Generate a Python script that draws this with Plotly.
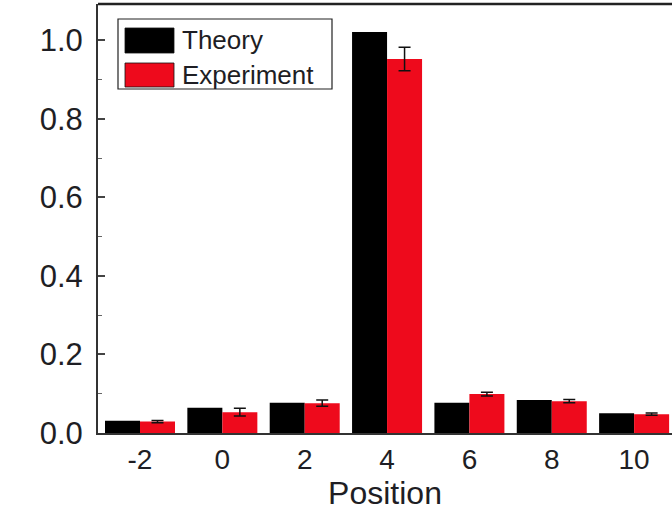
import plotly.graph_objects as go

# Positions along the lattice and the probability at each site
positions = [-2, 0, 2, 4, 6, 8, 10]
theory = [0.031, 0.064, 0.077, 1.021, 0.077, 0.084, 0.050]
experiment = [0.029, 0.053, 0.076, 0.952, 0.099, 0.081, 0.048]
experiment_err = [0.003, 0.010, 0.008, 0.030, 0.005, 0.004, 0.003]

y_tick_vals = [0.0, 0.2, 0.4, 0.6, 0.8, 1.0]
y_tick_text = ["0.0", "0.2", "0.4", "0.6", "0.8", "1.0"]
x_tick_vals = [-2, 0, 2, 4, 6, 8, 10]
x_tick_text = ["-2", "0", "2", "4", "6", "8", "10"]

series_names = ["Theory", "Experiment"]
BLACK = "#000000"
RED = "#ee0a1c"
FONT = "Liberation Sans, Arial, sans-serif"
TEXT = "#1e1e24"

fig = go.Figure()
fig.add_trace(go.Bar(
    x=positions, y=theory, name=series_names[0],
    marker=dict(color=BLACK, line=dict(width=0)),
))
fig.add_trace(go.Bar(
    x=positions, y=experiment, name=series_names[1],
    marker=dict(color=RED, line=dict(width=0)),
    error_y=dict(type="data", array=experiment_err, visible=True,
                 color="#111111", thickness=1.5, width=6),
))

fig.update_layout(
    width=672, height=512,
    margin=dict(l=98, r=0, t=4, b=79),
    paper_bgcolor="white", plot_bgcolor="white",
    barmode="group", bargap=0.15, bargroupgap=0,
    showlegend=False,
    font=dict(family=FONT, color=TEXT),
)

fig.update_xaxes(
    range=[-3.02, 10.92],
    tickvals=x_tick_vals, ticktext=x_tick_text,
    ticks="", showgrid=False, zeroline=False,
    showline=True, linecolor="#333333", linewidth=2,
    tickfont=dict(family=FONT, size=28, color=TEXT),
    title=dict(text="Position", font=dict(family=FONT, size=32, color=TEXT), standoff=2),
)
fig.update_yaxes(
    range=[0, 1.092],
    tickvals=y_tick_vals, ticktext=y_tick_text,
    ticks="inside", ticklen=7, tickwidth=1.5, tickcolor="#444444",
    minor=dict(ticks="inside", ticklen=4, tickwidth=1, tickcolor="#666666", dtick=0.1, tick0=0),
    showgrid=False, zeroline=False,
    showline=True, linecolor="#333333", linewidth=2,
    tickfont=dict(family=FONT, size=31, color=TEXT),
    ticklabelstandoff=7,
)

# Top frame line
fig.add_shape(type="line", xref="paper", yref="paper", x0=0, x1=1, y0=1, y1=1,
              line=dict(color="#222222", width=2.5))

# Legend box with wide swatches, in pixel-based paper coordinates
W_PLOT = 672 - 98
H_PLOT = 512 - 4 - 79


def px(x):
    return (x - 98) / W_PLOT


def py(y):
    return (433 - y) / H_PLOT


fig.add_shape(type="rect", xref="paper", yref="paper",
              x0=px(118), x1=px(332), y0=py(89), y1=py(19),
              line=dict(color="#222222", width=1.2), fillcolor="white", layer="above")
swatch_rows = [(28, 53, BLACK), (63, 87, RED)]
for (top, bot, col), name in zip(swatch_rows, series_names):
    fig.add_shape(type="rect", xref="paper", yref="paper",
                  x0=px(125), x1=px(174), y0=py(bot), y1=py(top),
                  line=dict(color="#111111", width=0.8), fillcolor=col, layer="above")
    fig.add_annotation(xref="paper", yref="paper", x=px(180), y=py((top + bot) / 2),
                       text=name, showarrow=False, xanchor="left", yanchor="middle",
                       font=dict(family=FONT, size=26, color=TEXT))

fig.write_html("out.html")
